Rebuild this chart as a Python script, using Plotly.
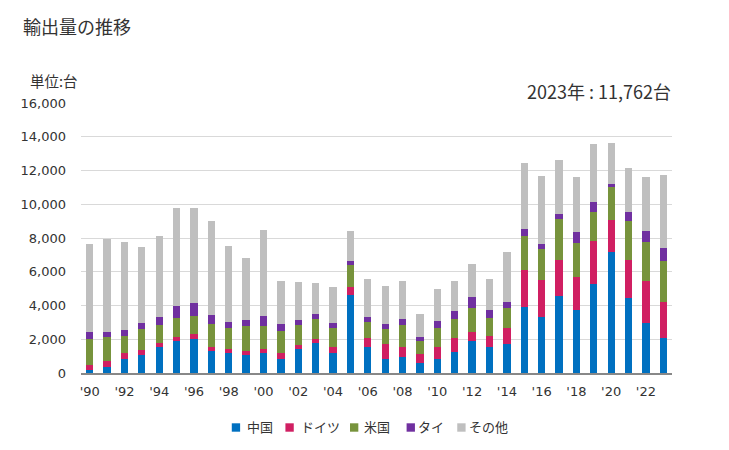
import plotly.graph_objects as go

years = list(range(1990, 2024))
china = [197, 335, 847, 1084, 1517, 1872, 2029, 1281, 1162, 1044, 1162, 847, 1399, 1793, 1202,
         4630, 1556, 808, 965, 571, 808, 1270, 1891, 1537, 1734, 3901, 3310, 4570, 3743, 5280,
         7171, 4452, 2955, 2069]
germany = [296, 394, 355, 295, 276, 236, 296, 275, 276, 276, 276, 355, 236, 236, 315,
           472, 532, 926, 591, 572, 709, 818, 552, 669, 945, 2206, 2206, 2128, 1931, 2521,
           1891, 2246, 2482, 2127]
usa = [1536, 1418, 1004, 1241, 1064, 1162, 1063, 1360, 1241, 1477, 1359, 1300, 1222, 1182, 1162,
       1301, 946, 886, 1301, 768, 1162, 1123, 1418, 1064, 1182, 1990, 1812, 2403, 2009, 1714,
       1931, 2285, 2305, 2423]
thailand = [414, 296, 355, 355, 472, 709, 769, 532, 355, 355, 591, 414, 295, 296, 296,
            236, 295, 296, 354, 236, 414, 473, 650, 473, 355, 413, 296, 296, 650, 591,
            236, 532, 650, 769]
other = [5201, 5497, 5201, 4491, 4787, 5771, 5643, 5584, 4491, 3664, 5092, 2541, 2246, 1832, 2127,
         1773, 2246, 2245, 2246, 1360, 1891, 1773, 1931, 1812, 2935, 3960, 4078, 3250, 3310, 3444,
         2407, 2660, 3251, 4374]

names = ["中国", "ドイツ", "米国", "タイ", "その他"]
colors = ["#0070C0", "#D01F62", "#77933C", "#7030A0", "#BFBFBF"]
values = [china, germany, usa, thailand, other]

tick_years = list(range(1990, 2024, 2))
tick_labels = ["'" + str(y)[2:] for y in tick_years]

CJK = "Noto Sans CJK JP, sans-serif"
NUM = "DejaVu Sans, Verdana, sans-serif"

# page-pixel helpers (body has an 8px margin; plot area spans x 77..672, y 103.3..373.3)
PX0, PX1, PY0, PY1 = 77.0, 672.0, 373.3, 103.3
def px(x):
    return (x - PX0) / (PX1 - PX0)
def py(y):
    return (PY0 - y) / (PY0 - PY1)

fig = go.Figure()
for name, vals, col in zip(names, values, colors):
    fig.add_trace(go.Bar(x=years, y=vals, name=name, marker=dict(color=col, line=dict(width=0))))

annotations = [
    dict(text="輸出量の推移", xref="paper", yref="paper", x=px(17), y=py(26.7), xanchor="left",
         yanchor="middle", showarrow=False, font=dict(family=CJK, size=18, color="#333333")),
    dict(text="単位:台", xref="paper", yref="paper", x=px(24), y=py(81), xanchor="left",
         yanchor="middle", showarrow=False, font=dict(family=CJK, size=14.5, color="#333333")),
    dict(text="2023年 : 11,762台", xref="paper", yref="paper", x=px(673), y=py(91.7), xanchor="right",
         yanchor="middle", showarrow=False, font=dict(family=CJK, size=18, color="#333333")),
]
shapes = []
# manual legend
sq_centers = [233, 287, 352, 409, 460]
text_left = [242, 296, 360, 414, 466]
for name, col, cx, tx in zip(names, colors, sq_centers, text_left):
    shapes.append(dict(type="rect", xref="paper", yref="paper", x0=px(cx - 4.2), x1=px(cx + 4.2),
                       y0=py(432), y1=py(423.6), fillcolor=col, line=dict(width=0)))
    annotations.append(dict(text=name, xref="paper", yref="paper", x=px(tx), y=py(426.5),
                            xanchor="left", yanchor="middle", showarrow=False,
                            font=dict(family=CJK, size=13, color="#333333")))

fig.update_layout(
    barmode="stack",
    bargap=0.58,
    width=721, height=442,
    margin=dict(l=69, r=57, t=95, b=77),
    paper_bgcolor="white", plot_bgcolor="white",
    font=dict(family=NUM, size=13, color="#333333"),
    showlegend=False,
    xaxis=dict(range=[1989.5, 2023.5], tickmode="array", tickvals=tick_years, ticktext=tick_labels,
               showline=True, linecolor="#888888", linewidth=1.5, ticks="", showgrid=False,
               ticklabelstandoff=6, tickfont=dict(family=NUM, size=13, color="#333333")),
    yaxis=dict(range=[0, 16000], tickvals=list(range(0, 16001, 2000)), tickformat=",",
               showgrid=True, gridcolor="#D9D9D9", gridwidth=1, zeroline=False, ticks="",
               ticklabelstandoff=14, tickfont=dict(family=NUM, size=13, color="#333333")),
    annotations=annotations,
    shapes=shapes,
)

fig.write_html("out.html")
